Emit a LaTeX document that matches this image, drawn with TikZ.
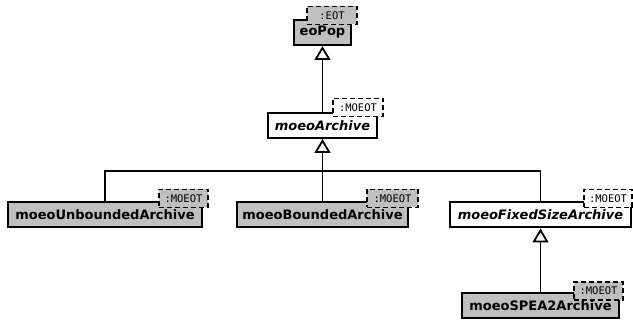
\documentclass[tikz,border=0pt]{standalone}
\usepackage{fontspec}
\setmainfont{DejaVu Sans}
\setmonofont{DejaVu Sans Mono}
\usetikzlibrary{arrows.meta}
\definecolor{boxgrey}{HTML}{BFBFBF}
\tikzset{
  cls/.style={draw=black, line width=2pt, minimum height=25pt, inner sep=0pt, font=\fontsize{13}{15}\selectfont\bfseries},
  concrete/.style={cls, fill=boxgrey},
  abstract/.style={cls, fill=white, font=\fontsize{13}{15}\selectfont\bfseries\itshape},
  tmpl/.style={draw=black, line width=1.8pt, dash pattern=on 5pt off 3pt, minimum height=18pt, inner sep=0pt, font=\fontsize{10.5}{12}\ttfamily},
  conn/.style={line width=1.8pt, draw=black},
  inh/.style={conn, -{Triangle[open, length=14pt, width=16pt, fill=white]}}
}
\begin{document}
\begin{tikzpicture}[x=1pt, y=-1pt]
\useasboundingbox (0,0) rectangle (633,320);
% classes
\node[concrete, minimum width=57pt] (eopop) at (322.5,32.5) {eoPop};
\node[abstract, minimum width=109pt] (arch) at (322.5,125.5) {moeoArchive};
\node[concrete, minimum width=194pt] (uarch) at (105,215) {moeoUnboundedArchive};
\node[concrete, minimum width=171pt] (barch) at (322.5,215) {moeoBoundedArchive};
\node[abstract, minimum width=181pt] (farch) at (540.5,215) {moeoFixedSizeArchive};
\node[concrete, minimum width=157pt] (sarch) at (540.5,305.5) {moeoSPEA2Archive};
% template boxes
\node[tmpl, fill=boxgrey, minimum width=50pt] (teopop) at (332,15.5) {:EOT};
\node[tmpl, fill=white, minimum width=50pt] (tarch) at (358,107.5) {:MOEOT};
\node[tmpl, fill=boxgrey, minimum width=49pt] (tuarch) at (183.5,198.5) {:MOEOT};
\node[tmpl, fill=boxgrey, minimum width=51pt] (tbarch) at (392.5,198.5) {:MOEOT};
\node[tmpl, fill=white, minimum width=48pt] (tfarch) at (608,198.5) {:MOEOT};
\node[tmpl, fill=boxgrey, minimum width=49pt] (tsarch) at (598.5,291) {:MOEOT};
% connectors
\coordinate (bus) at (322.5,171);
\draw[inh] (arch.north) -- (eopop.south);
\draw[inh] (bus) -- (arch.south);
\draw[conn] (uarch.north) |- (bus);
\draw[conn] (farch.north) |- (bus);
\draw[conn] (barch.north) -- (bus);
\draw[inh] (sarch.north) -- (farch.south);
\end{tikzpicture}
\end{document}
